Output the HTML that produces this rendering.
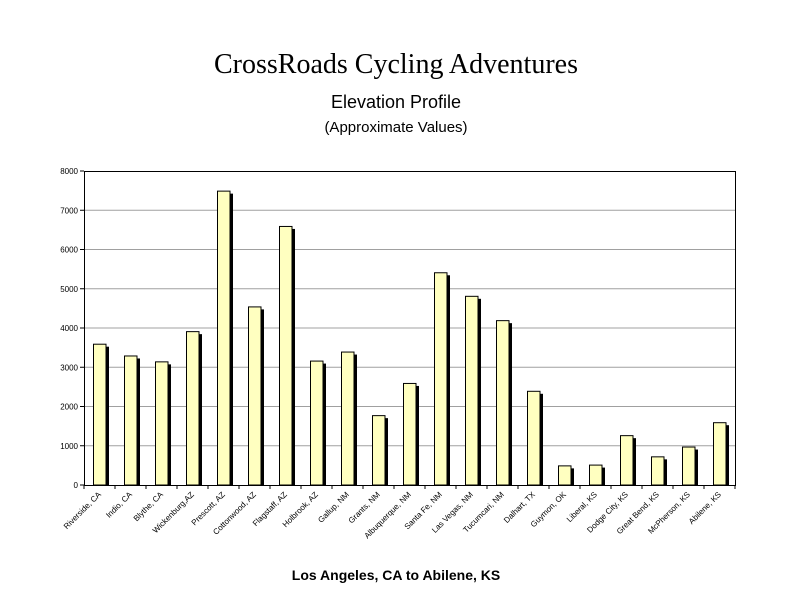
<!DOCTYPE html>
<html><head><meta charset="utf-8"><style>
html,body{margin:0;padding:0;background:#fff;width:792px;height:612px;overflow:hidden}
svg{display:block}
</style></head><body>
<svg id="s" width="792" height="612" xmlns="http://www.w3.org/2000/svg" font-family="Liberation Sans, Arial, sans-serif">
<text x="396" y="73" font-family="Liberation Serif, serif" font-size="28" text-anchor="middle">CrossRoads Cycling Adventures</text>
<text x="396" y="108" font-size="18" text-anchor="middle">Elevation Profile</text>
<text x="396" y="132" font-size="15" text-anchor="middle">(Approximate Values)</text>
<text x="396" y="580" font-size="14" font-weight="bold" text-anchor="middle">Los Angeles, CA to Abilene, KS</text>
<g id="g"></g>
</svg>
<script>
(function(){
var names=["Riverside, CA","Indio, CA","Blythe, CA","Wickenburg,AZ","Prescott, AZ","Cottonwood, AZ","Flagstaff, AZ","Holbrook, AZ","Gallup, NM","Grants, NM","Albuquerque, NM","Santa Fe, NM","Las Vegas, NM","Tucumcari, NM","Dalhart, TX","Guymon, OK","Liberal, KS","Dodge City, KS","Great Bend, KS","McPherson, KS","Abilene, KS"];
var vals=[3600,3300,3150,3920,7500,4550,6600,3170,3400,1780,2600,5420,4820,4200,2400,500,520,1270,730,980,1600];
var L=84,R=735,T=171,B=485,k=(B-T)/8000,h="";
for(var v=0;v<=8000;v+=1000){var y=B-v*k;
 if(v>0&&v<8000)h+='<line x1="'+L+'" x2="'+R+'" y1="'+y+'" y2="'+y+'" stroke="#a0a0a0" stroke-width="1"/>';
 h+='<line x1="'+(L-4)+'" x2="'+L+'" y1="'+y+'" y2="'+y+'" stroke="#000"/>';
 h+='<text x="'+(L-6)+'" y="'+(y+3)+'" font-size="8" text-anchor="end">'+v+'</text>';}
for(var i=0;i<21;i++){var x0=L+31*i,bx=x0+9,ty=B-vals[i]*k,cx=x0+15.5;
 h+='<rect x="'+(bx+3)+'" y="'+(ty+3)+'" width="13" height="'+(B-ty-3)+'" fill="#000"/>';
 h+='<rect x="'+(bx+0.5)+'" y="'+(ty+0.5)+'" width="12.5" height="'+(B-ty-0.5)+'" fill="#ffffc0" stroke="#000" stroke-width="1"/>';
 h+='<line x1="'+(x0+31)+'" x2="'+(x0+31)+'" y1="'+B+'" y2="'+(B+4)+'" stroke="#000"/>';
 h+='<text transform="translate('+(cx+2)+','+(B+10)+') rotate(-45)" font-size="8" text-anchor="end">'+names[i]+'</text>';}
h+='<rect x="'+(L+0.5)+'" y="'+(T+0.5)+'" width="'+(R-L)+'" height="'+(B-T)+'" fill="none" stroke="#000" stroke-width="1"/>';
h+='<line x1="'+L+'" x2="'+L+'" y1="'+B+'" y2="'+(B+4)+'" stroke="#000"/>';
document.getElementById("g").innerHTML=h;
})();
</script>
</body></html>
